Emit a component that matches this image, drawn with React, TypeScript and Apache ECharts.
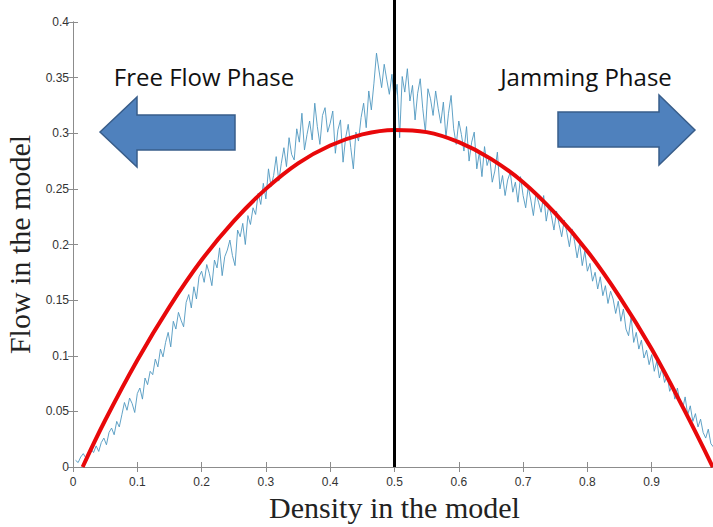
import React, { useEffect, useRef } from "react";
import * as echarts from "echarts";

// Measured flow (noisy), sampled every 0.004 in density starting at 0.004
const flowStep = 0.004;
const measuredFlow = [
  0.006, 0.004, 0.009, 0.012, 0.008, 0.010, 0.016, 0.013, 0.019, 0.014,
  0.022, 0.026, 0.020, 0.031, 0.035, 0.029, 0.041, 0.036, 0.047, 0.058,
  0.051, 0.062, 0.057, 0.049, 0.066, 0.071, 0.061, 0.080, 0.074, 0.086,
  0.083, 0.097, 0.090, 0.106, 0.099, 0.112, 0.121, 0.108, 0.131, 0.124,
  0.139, 0.132, 0.126, 0.148, 0.155, 0.143, 0.162, 0.151, 0.171, 0.176,
  0.166, 0.182, 0.174, 0.163, 0.186, 0.179, 0.197, 0.172, 0.189, 0.195,
  0.204, 0.190, 0.181, 0.213, 0.207, 0.219, 0.200, 0.226, 0.218, 0.233,
  0.227, 0.246, 0.236, 0.255, 0.241, 0.268, 0.252, 0.262, 0.279, 0.257,
  0.273, 0.287, 0.270, 0.296, 0.281, 0.276, 0.304, 0.292, 0.318, 0.285,
  0.299, 0.311, 0.294, 0.327, 0.306, 0.290, 0.316, 0.323, 0.301, 0.309,
  0.320, 0.282, 0.303, 0.312, 0.274, 0.296, 0.308, 0.287, 0.268, 0.301,
  0.293, 0.314, 0.327, 0.305, 0.338, 0.321, 0.345, 0.372, 0.356, 0.341,
  0.362, 0.348, 0.335, 0.353, 0.327, 0.344, 0.296, 0.351, 0.337, 0.358,
  0.329, 0.343, 0.312, 0.336, 0.349, 0.322, 0.301, 0.340, 0.331, 0.316,
  0.338, 0.322, 0.309, 0.328, 0.296, 0.318, 0.334, 0.304, 0.290, 0.311,
  0.299, 0.284, 0.306, 0.275, 0.292, 0.301, 0.268, 0.283, 0.261, 0.288,
  0.271, 0.279, 0.256, 0.266, 0.283, 0.250, 0.262, 0.244, 0.258, 0.265,
  0.247, 0.256, 0.238, 0.261, 0.244, 0.233, 0.252, 0.240, 0.226, 0.246,
  0.238, 0.229, 0.244, 0.221, 0.235, 0.226, 0.213, 0.230, 0.218, 0.207,
  0.222, 0.211, 0.198, 0.214, 0.203, 0.188, 0.201, 0.181, 0.194, 0.176,
  0.183, 0.167, 0.175, 0.160, 0.171, 0.154, 0.163, 0.147, 0.158, 0.151,
  0.138, 0.149, 0.131, 0.142, 0.124, 0.118, 0.135, 0.112, 0.121, 0.106,
  0.114, 0.098, 0.105, 0.092, 0.101, 0.086, 0.095, 0.080, 0.089, 0.076,
  0.082, 0.068, 0.074, 0.061, 0.071, 0.058, 0.052, 0.063, 0.047, 0.055,
  0.041, 0.048, 0.036, 0.043, 0.031, 0.026, 0.034, 0.021, 0.018,
];

// Fitted curve (red)
const fitDensity = [0.015, 0.05, 0.1, 0.15, 0.2, 0.25, 0.3, 0.35, 0.4, 0.45, 0.5, 0.55, 0.6, 0.65, 0.7, 0.75, 0.8, 0.85, 0.9, 0.95, 0.995];
const fitFlow = [0, 0.042, 0.096, 0.144, 0.186, 0.221, 0.25, 0.273, 0.289, 0.299, 0.303, 0.301, 0.292, 0.277, 0.256, 0.228, 0.194, 0.153, 0.106, 0.052, 0];

// Phase boundary
const boundaryDensity = 0.5;
const boundaryFlow = [0, 0.42];

const xTicks = [0, 0.1, 0.2, 0.3, 0.4, 0.5, 0.6, 0.7, 0.8, 0.9];
const yTicks = [0, 0.05, 0.1, 0.15, 0.2, 0.25, 0.3, 0.35, 0.4];

const leftLabel = "Free Flow Phase";
const rightLabel = "Jamming Phase";

export default function App() {
  const ref = useRef<HTMLDivElement>(null);
  useEffect(() => {
    if (!ref.current) return;
    const chart = echarts.init(ref.current, undefined, { renderer: "svg" });
    const measured = measuredFlow.map((v, i) => [+(flowStep * (i + 1)).toFixed(3), v]);
    const fit = fitDensity.map((x, i) => [x, fitFlow[i]]);
    const boundary = boundaryFlow.map((y) => [boundaryDensity, y]);
    const axisColor = "#8c8c8c";
    const tickLabel = { color: "#333", fontFamily: "Liberation Sans", fontSize: 12 };
    const arrowStyle = { fill: "#4f81bd", stroke: "#385d8a", lineWidth: 1.5 };
    chart.setOption({
      animation: false,
      backgroundColor: "#fff",
      grid: { left: 73, right: -3, top: 22, bottom: 60, containLabel: false, outerBoundsMode: "none" },
      xAxis: [
        {
          type: "value",
          min: 0,
          max: 1,
          interval: 0.1,
          position: "bottom",
          axisLine: { show: true, lineStyle: { color: axisColor, width: 1 } },
          axisTick: { show: true, inside: true, length: 5, lineStyle: { color: axisColor } },
          splitLine: { show: false },
          axisLabel: {
            ...tickLabel,
            margin: 9,
            showMaxLabel: false,
            formatter: (v: number) => (xTicks.some((t) => Math.abs(t - v) < 1e-9) ? String(+v.toFixed(1)) : ""),
          },
          name: "Density in the model",
          nameLocation: "middle",
          nameGap: 25,
          nameTextStyle: { fontFamily: "Liberation Serif", fontSize: 30, color: "#222" },
        },
        {
          type: "value",
          min: 0,
          max: 1,
          interval: 0.1,
          position: "top",
          axisLine: { show: true, lineStyle: { color: axisColor, width: 1 } },
          axisTick: { show: true, inside: true, length: 5, lineStyle: { color: axisColor } },
          axisLabel: { show: false },
          splitLine: { show: false },
        },
      ],
      yAxis: [
        {
          type: "value",
          min: 0,
          max: 0.4,
          interval: 0.05,
          position: "left",
          axisLine: { show: true, lineStyle: { color: axisColor, width: 1 } },
          axisTick: { show: true, inside: true, length: 5, lineStyle: { color: axisColor } },
          splitLine: { show: false },
          axisLabel: {
            ...tickLabel,
            margin: 4,
            formatter: (v: number) => (yTicks.some((t) => Math.abs(t - v) < 1e-9) ? String(+v.toFixed(2)) : ""),
          },
          name: "Flow in the model",
          nameLocation: "middle",
          nameGap: 37,
          nameTextStyle: { fontFamily: "Liberation Serif", fontSize: 30, color: "#222" },
        },
        {
          type: "value",
          min: 0,
          max: 0.4,
          interval: 0.05,
          position: "right",
          axisLine: { show: true, lineStyle: { color: axisColor, width: 1 } },
          axisTick: { show: true, inside: true, length: 5, lineStyle: { color: axisColor } },
          axisLabel: { show: false },
          splitLine: { show: false },
        },
      ],
      series: [
        {
          type: "line",
          data: measured,
          showSymbol: false,
          lineStyle: { color: "#4f97bf", width: 0.9 },
          z: 2,
        },
        {
          type: "line",
          data: fit,
          smooth: 0.4,
          showSymbol: false,
          lineStyle: { color: "#e8080a", width: 4 },
          z: 3,
        },
        {
          type: "line",
          data: boundary,
          showSymbol: false,
          clip: false,
          lineStyle: { color: "#000", width: 3 },
          z: 4,
        },
      ],
      graphic: [
        {
          type: "polygon",
          shape: { points: [[100, 132], [137, 97], [137, 115], [235, 115], [235, 150], [137, 150], [137, 167]] },
          style: arrowStyle,
          z: 10,
        },
        {
          type: "polygon",
          shape: { points: [[695, 130], [659, 95], [659, 112], [558, 112], [558, 147], [659, 147], [659, 165]] },
          style: arrowStyle,
          z: 10,
        },
        {
          type: "text",
          x: 204,
          y: 76,
          style: { text: leftLabel, fontFamily: "Open Sans", fontSize: 24, fill: "#111", align: "center", verticalAlign: "middle" },
          z: 10,
        },
        {
          type: "text",
          x: 586,
          y: 76,
          style: { text: rightLabel, fontFamily: "Open Sans", fontSize: 24, fill: "#111", align: "center", verticalAlign: "middle" },
          z: 10,
        },
      ],
    });
    return () => chart.dispose();
  }, []);
  return <div ref={ref} style={{ width: 713, height: 527, position: "fixed", left: 0, top: 0 }} />;
}
